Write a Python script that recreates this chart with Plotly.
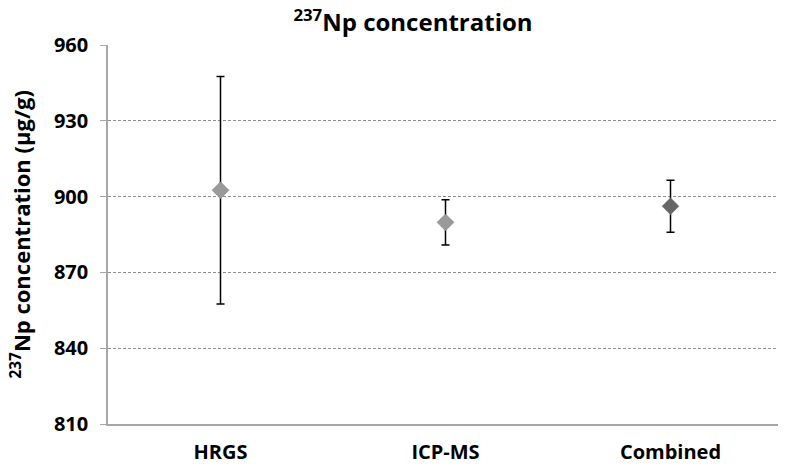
import plotly.graph_objects as go

categories = ["HRGS", "ICP-MS", "Combined"]
values = [902.5, 889.8, 896.2]
errors = [45.0, 9.0, 10.3]
marker_colors = ["#9a9a9a", "#9a9a9a", "#666666"]
y_ticks = [810, 840, 870, 900, 930, 960]

FONT = "Open Sans"
W, H = 778, 460
L, R, T, B = 100, 3, 37, 35

fig = go.Figure()
fig.add_trace(go.Scatter(
    x=categories, y=values, mode="markers",
    marker=dict(symbol="diamond", size=13, color=marker_colors,
                line=dict(width=0.5, color="#777777")),
    error_y=dict(type="data", array=errors, visible=True,
                 color="black", thickness=1.5, width=4),
    showlegend=False,
))

pw = W - L - R
fig.update_layout(
    width=W, height=H,
    margin=dict(l=L, r=R, t=T, b=B),
    paper_bgcolor="white", plot_bgcolor="white",
    font=dict(family=FONT, color="black"),
    title=dict(text="<b><sup>237</sup>Np concentration</b>", x=405 / W, xanchor="center",
               xref="container", yref="container",
               y=1 - 15 / H, yanchor="middle", font=dict(size=24, family=FONT)),
    annotations=[dict(
        text="<b><sup>237</sup>Np concentration (µg/g)</b>",
        xref="paper", yref="paper", x=-(L - 12) / pw, y=0.5,
        xanchor="center", yanchor="middle", textangle=-90, showarrow=False,
        font=dict(size=22, family=FONT, color="black"),
    )],
)
fig.update_xaxes(
    type="category", range=[-0.5, 2.5],
    tickvals=categories, ticktext=[f"<b>{c}</b>" for c in categories],
    showline=True, linecolor="#a6a6a6", linewidth=1.5,
    showgrid=False, ticks="",
    tickfont=dict(size=20, family=FONT),
    ticklabelstandoff=9,
)
fig.update_yaxes(
    range=[810, 960], tickvals=y_ticks,
    ticktext=[f"<b>{t}</b>" for t in y_ticks],
    showline=True, linecolor="#a6a6a6", linewidth=1.5,
    ticks="outside", ticklen=6, tickcolor="#a6a6a6",
    showgrid=True, gridcolor="#8f8f8f", griddash="3px,2px", gridwidth=1,
    zeroline=False,
    tickfont=dict(size=20, family=FONT),
    ticklabelstandoff=8,
)

fig.write_html("out.html")
